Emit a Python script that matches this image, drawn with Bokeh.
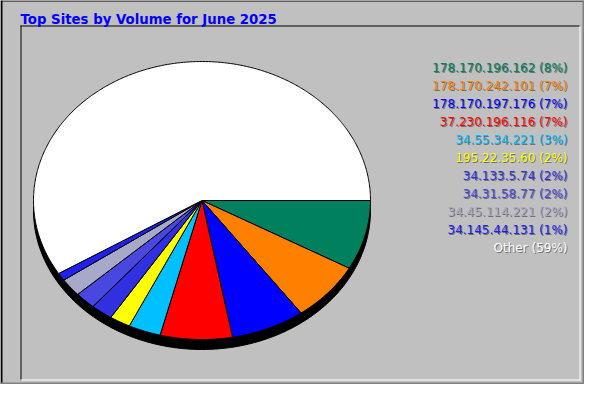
import numpy as np
from bokeh.plotting import figure
from bokeh.models import Range1d
from bokeh.embed import file_html
from bokeh.resources import INLINE
from bokeh.core.properties import value

# ---- data ----
chart_title = "Top Sites by Volume for June 2025"
sites = ["178.170.196.162", "178.170.242.101", "178.170.197.176", "37.230.196.116",
         "34.55.34.221", "195.22.35.60", "34.133.5.74", "34.31.58.77",
         "34.45.114.221", "34.145.44.131", "Other"]
shares = [8.1, 6.9, 7.1, 6.9, 3.1, 2.0, 2.1, 2.0, 2.1, 0.9, 58.8]
colors = ["#00805c", "#ff8000", "#0000ff", "#ff0000", "#00c0ff", "#ffff00",
          "#3030e0", "#4848e0", "#a8a8c8", "#2020f0", "#ffffff"]

# ---- layout (pixel coordinates of the canvas) ----
BG = "#c0c0c0"
W, H = 584, 384
cx, cy, rx, ry, depth = 201.5, 200.0, 168.5, 139.0, 10.0

p = figure(width=W, height=H, x_range=Range1d(0, W), y_range=Range1d(H, 0),
           output_backend="svg", toolbar_location=None, min_border=0,
           x_axis_location=None, y_axis_location=None)
p.grid.grid_line_color = None
p.outline_line_color = None
p.background_fill_color = BG
p.border_fill_color = BG

# outer bevel (at figure edges)
p.quad(left=[0, 0], right=[W, 2], top=[0, 0], bottom=[1, H], fill_color="black", line_color=None)
p.quad(left=[W - 2, 0], right=[W, W], top=[0, H - 2], bottom=[H, H], fill_color="#808080", line_color=None)

# inner frame
p.quad(left=[20, 20], right=[580, 21], top=[25, 25], bottom=[26, 380], fill_color="black", line_color=None)
p.quad(left=[579, 20], right=[580, 580], top=[25, 379], bottom=[380, 380], fill_color="white", line_color=None)

# 3D shadow of the pie
t = np.linspace(0, 2 * np.pi, 400)
p.patch(cx + rx * np.cos(t), cy + depth + ry * np.sin(t), fill_color="black", line_color="black", line_width=1)

# pie slices
total = sum(shares)
xs, ys = [], []
start = 0.0
for s in shares:
    a0 = start / total * 2 * np.pi
    a1 = (start + s) / total * 2 * np.pi
    n = max(3, int(np.degrees(a1 - a0) * 2))
    tt = np.linspace(a0, a1, n)
    xs.append(np.concatenate([[cx], cx + rx * np.cos(tt)]).tolist())
    ys.append(np.concatenate([[cy], cy + ry * np.sin(tt)]).tolist())
    start += s
p.patches(xs, ys, fill_color=colors, line_color="black", line_width=1)

# title
p.text(x=[20], y=[19], text=[chart_title], text_color="#0000ff",
       text_font=value("DejaVu Sans"), text_font_size="13.3px", text_font_style="bold",
       text_align="left", text_baseline="alphabetic")

# legend
labels = [f"{name} ({round(s / total * 100)}%)" for name, s in zip(sites, shares)]
ly = [67 + 18 * i for i in range(len(labels))]
p.text(x=[568] * len(labels), y=[v + 1 for v in ly], text=labels, text_color="#707070",
       text_font=value("DejaVu Sans"), text_font_size="12px",
       text_align="right", text_baseline="alphabetic")
p.text(x=[567] * len(labels), y=ly, text=labels, text_color=colors,
       text_font=value("DejaVu Sans"), text_font_size="12px",
       text_align="right", text_baseline="alphabetic")

open("out.html", "w").write(file_html(p, INLINE))
